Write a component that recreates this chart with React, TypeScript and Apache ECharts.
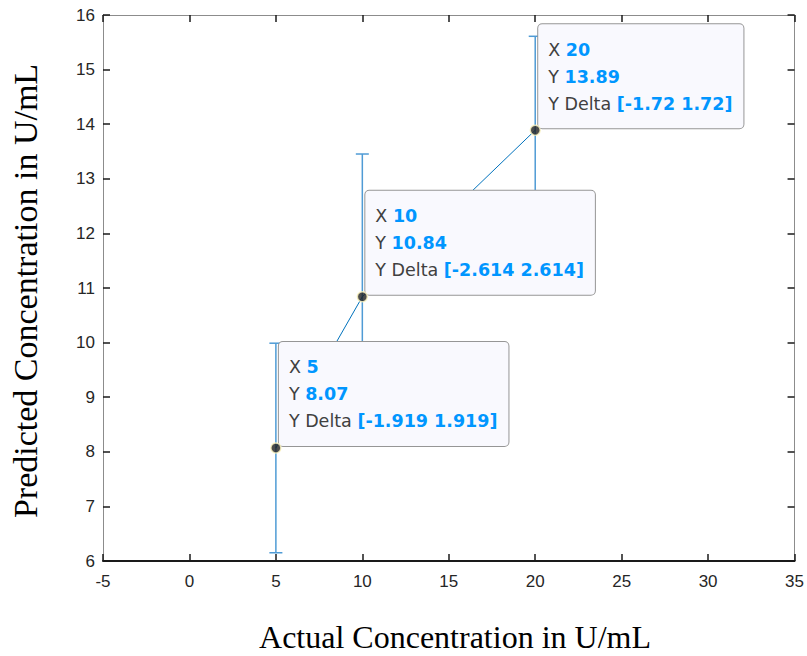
import React, { useEffect, useRef } from "react";
import * as echarts from "echarts";

const xValues = [5, 10, 20];
const yValues = [8.07, 10.84, 13.89];
const yDelta = [1.919, 2.614, 1.72];
const xTicks = { min: -5, max: 35, step: 5 };
const yTicks = { min: 6, max: 16, step: 1 };
const xTitle = "Actual Concentration in U/mL";
const yTitle = "Predicted Concentration in U/mL";

const tipFont = "DejaVu Sans";

export default function App() {
  const ref = useRef<HTMLDivElement>(null);
  useEffect(() => {
    if (!ref.current) return;
    const chart = echarts.init(ref.current, undefined, { renderer: "svg" });
    const pts = xValues.map((x, i) => [x, yValues[i], yDelta[i]]);
    const axisLabel = { color: "#262626", fontSize: 17, fontFamily: "Liberation Sans" };
    const option: any = {
      animation: false,
      backgroundColor: "#ffffff",
      grid: { left: 103, right: 12, top: 15, bottom: 95 },
      xAxis: [
        {
          type: "value", min: xTicks.min, max: xTicks.max, interval: xTicks.step,
          position: "bottom",
          axisLine: { show: true, onZero: false, lineStyle: { color: "#1a1a1a", width: 2 } },
          axisTick: { show: true, inside: true, length: 7, lineStyle: { color: "#1a1a1a", width: 1.5 } },
          axisLabel: { ...axisLabel, margin: 12 },
          splitLine: { show: false },
        },
        {
          type: "value", min: xTicks.min, max: xTicks.max, interval: xTicks.step,
          position: "top",
          axisLine: { show: true, onZero: false, lineStyle: { color: "#8c8c8c", width: 1 } },
          axisTick: { show: true, inside: true, length: 7, lineStyle: { color: "#1a1a1a", width: 1.5 } },
          axisLabel: { show: false },
          splitLine: { show: false },
        },
      ],
      yAxis: [
        {
          type: "value", min: yTicks.min, max: yTicks.max, interval: yTicks.step,
          position: "left",
          axisLine: { show: true, onZero: false, lineStyle: { color: "#8c8c8c", width: 1 } },
          axisTick: { show: true, inside: true, length: 7, lineStyle: { color: "#1a1a1a", width: 1.5 } },
          axisLabel: { ...axisLabel, margin: 8 },
          splitLine: { show: false },
        },
        {
          type: "value", min: yTicks.min, max: yTicks.max, interval: yTicks.step,
          position: "right",
          axisLine: { show: true, onZero: false, lineStyle: { color: "#8c8c8c", width: 1 } },
          axisTick: { show: true, inside: true, length: 7, lineStyle: { color: "#1a1a1a", width: 1.5 } },
          axisLabel: { show: false },
          splitLine: { show: false },
        },
      ],
      graphic: [
        {
          type: "text", x: 25, y: 291, rotation: Math.PI / 2,
          style: { text: yTitle, fill: "#000", font: "34px 'Liberation Serif'", align: "center", verticalAlign: "middle" },
        },
        {
          type: "text", x: 455, y: 637,
          style: { text: xTitle, fill: "#000", font: "32px 'Liberation Serif'", align: "center", verticalAlign: "middle" },
        },
      ],
      series: [
        {
          type: "custom",
          z: 2,
          data: pts,
          renderItem: (params: any, api: any) => {
            const x = api.value(0), y = api.value(1), d = api.value(2);
            const top = api.coord([x, y + d]);
            const bot = api.coord([x, y - d]);
            const cw = 6.5;
            const ls = { stroke: "#4f9bd5", lineWidth: 1.5 };
            return {
              type: "group",
              children: [
                { type: "line", shape: { x1: top[0], y1: top[1], x2: bot[0], y2: bot[1] }, style: ls },
                { type: "line", shape: { x1: top[0] - cw, y1: top[1], x2: top[0] + cw, y2: top[1] }, style: ls },
                { type: "line", shape: { x1: bot[0] - cw, y1: bot[1], x2: bot[0] + cw, y2: bot[1] }, style: ls },
              ],
            };
          },
        },
        {
          type: "line",
          z: 3,
          data: pts.map((p) => [p[0], p[1]]),
          symbol: "none",
          lineStyle: { color: "#0072BD", width: 1 },
        },
        {
          type: "custom",
          z: 10,
          data: pts,
          renderItem: (params: any, api: any) => {
            const i = params.dataIndex;
            const p = api.coord([xValues[i], yValues[i]]);
            const yv = yValues[i].toFixed(2);
            const dv = String(yDelta[i]);
            const text =
              `{l|X} {v|${xValues[i]}}\n{l|Y} {v|${yv}}\n{l|Y Delta} {v|[-${dv} ${dv}]}`;
            return {
              type: "text",
              x: p[0] + 3,
              y: p[1] - 2,
              style: {
                text,
                x: 0, y: 0,
                align: "left",
                verticalAlign: "bottom",
                fontFamily: tipFont,
                fontSize: 17.5,
                lineHeight: 27,
                fill: "#404040",
                backgroundColor: "#f9f9fe",
                borderColor: "#969696",
                borderWidth: 1,
                borderRadius: 4,
                padding: [12, 11, 11, 10],
                rich: {
                  l: { fill: "#404040", fontFamily: tipFont, fontSize: 17.5, lineHeight: 27 },
                  v: { fill: "#0096ff", fontFamily: tipFont, fontSize: 17.5, fontWeight: "bold", lineHeight: 27 },
                },
              },
            };
          },
        },
        {
          type: "scatter",
          z: 20,
          data: pts.map((p) => [p[0], p[1]]),
          symbol: "circle",
          symbolSize: 10,
          itemStyle: { color: "#1f1f1f", borderColor: "#fcf5c0", borderWidth: 1.5 },
        },
      ],
    };
    chart.setOption(option);
    return () => chart.dispose();
  }, []);
  return (
    <div
      ref={ref}
      style={{ width: 807, height: 656, position: "absolute", left: 0, top: 0 }}
    />
  );
}
